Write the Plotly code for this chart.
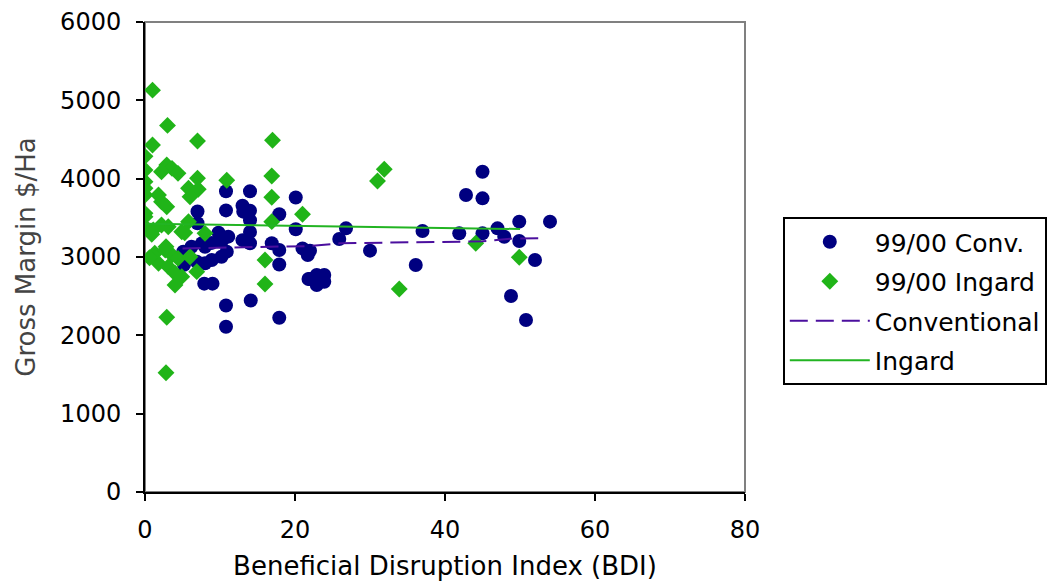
import plotly.graph_objects as go

# 99/00 Conventional (BDI, Gross margin $/Ha)
conv_x = [10.8, 14, 20.1, 7, 10.8, 13, 14, 14, 14, 17.9, 20.1, 7, 9.8, 11.1, 13, 14, 16.9, 17.9,
          21, 22, 21.7, 6.2, 5.1, 7.6, 8.9, 10.2, 8, 10.2, 10.9, 8, 8.9, 5.2, 7.9, 9, 17.9, 21.8,
          10.8, 14.1, 17.9, 10.8, 45, 42.8, 45, 26.8, 25.9, 37, 41.9, 45, 47, 47.9, 49.9, 49.9,
          54, 52, 30, 36.1, 48.8, 50.8, 22.9, 23.9, 22.9, 23.9, 22, 6.9, 13.1]
conv_y = [3840, 3840, 3760, 3580, 3595, 3655, 3590, 3470, 3320, 3545, 3355, 3430, 3310, 3260, 3215,
          3175, 3175, 3090, 3110, 3080, 3026, 3130, 3068, 3175, 3180, 3196, 3130, 3004, 3068, 2919,
          2962, 2900, 2660, 2660, 2905, 2719, 2380, 2445, 2225, 2110, 4089, 3792, 3749, 3366, 3230,
          3332, 3302, 3302, 3366, 3259, 3451, 3204, 3451, 2962, 3081, 2898, 2502, 2196, 2770, 2770,
          2643, 2685, 2720, 2940, 3579]

# 99/00 Ingard
ing_x = [1, 3, 7, 17, 1, 0, 0, 2.9, 3.6, 2.2, 4.4, 7, 10.9, 16.9, 0, 0, 0, 5.8, 7.1, 6, 1.8, 2.2,
         2.9, 16.9, 0, 0, 21, 3.1, 5.8, 4.9, 0, 1.1, 2.2, 8, 16.9, 0.9, 5.3, 1.3, 2.7, 3.6, 4.4,
         1.8, 3.1, 4, 4.9, 4, 0.6, 6, 6.9, 16, 16, 2.9, 2.8, 31.9, 31, 44.1, 49.9, 33.9, 2.8]
ing_y = [5130, 4680, 4480, 4490, 4430, 4285, 4110, 4175, 4132, 4089, 4068, 4005, 3980, 4034, 3962,
         3877, 3792, 3877, 3864, 3770, 3792, 3706, 3642, 3762, 3557, 3515, 3545, 3387, 3451, 3323,
         3387, 3345, 3409, 3302, 3451, 3290, 3310, 3047, 3089, 3026, 2983, 2919, 2877, 2792, 2749,
         2643, 2990, 3004, 2813, 2962, 2655, 2230, 1523, 4120, 3970, 3175, 2996, 2592, 3130]

# Trend lines
conv_line_x = [5, 22, 26, 45, 49, 53]
conv_line_y = [3110, 3140, 3175, 3200, 3235, 3240]
ing_line_x = [0, 50]
ing_line_y = [3424, 3357]

x_ticks = [0, 20, 40, 60, 80]
y_ticks = [0, 1000, 2000, 3000, 4000, 5000, 6000]

FONT = "DejaVu Sans, Liberation Sans, Arial, sans-serif"
FS = 24

fig = go.Figure()
fig.add_trace(go.Scatter(x=conv_x, y=conv_y, mode="markers", name="99/00 Conv.",
                         legendgroup="a",
                         marker=dict(symbol="circle", size=14, color="#000080")))
fig.add_trace(go.Scatter(x=ing_x, y=ing_y, mode="markers", name="99/00 Ingard",
                         legendgroup="b",
                         marker=dict(symbol="diamond", size=13, color="#20b418")))
fig.add_trace(go.Scatter(x=conv_line_x, y=conv_line_y, mode="lines", name="Conventional",
                         legendgroup="c",
                         line=dict(color="#4b0f9e", width=2, dash="18px,8px")))
fig.add_trace(go.Scatter(x=ing_line_x, y=ing_line_y, mode="lines", name="Ingard",
                         legendgroup="d",
                         line=dict(color="#22b422", width=2)))

fig.update_layout(
    width=1055, height=584,
    margin=dict(l=137, r=318, t=14, b=100),
    paper_bgcolor="white", plot_bgcolor="white",
    font=dict(family=FONT, size=FS, color="black"),
    showlegend=True,
    legend=dict(x=1.063, y=0.585, xanchor="left", yanchor="top",
                bordercolor="black", borderwidth=2, bgcolor="white",
                font=dict(family=FONT, size=25, color="black"),
                tracegroupgap=4, traceorder="grouped", itemwidth=80),
    shapes=[dict(type="rect", xref="paper", yref="paper", x0=0, y0=0, x1=1, y1=1,
                 line=dict(color="#808080", width=2), layer="below")],
)
fig.update_xaxes(range=[0, 80], tickvals=x_ticks, ticks="outside", ticklen=7, tickwidth=2,
                 tickcolor="black", showline=True, linecolor="black", linewidth=2,
                 showgrid=False, zeroline=False, automargin=False, ticklabelstandoff=8,
                 title=dict(text="Beneficial Disruption Index (BDI)", standoff=14,
                            font=dict(family=FONT, size=26)))
fig.update_yaxes(range=[0, 6000], tickvals=y_ticks, ticks="outside", ticklen=7, tickwidth=2,
                 tickcolor="black", showline=True, linecolor="black", linewidth=2,
                 showgrid=False, zeroline=False, automargin=False, ticklabelstandoff=10,
                 title=dict(text="Gross Margin $/Ha", standoff=17,
                            font=dict(family=FONT, size=26, color="#444444")))

fig.write_html("out.html")
